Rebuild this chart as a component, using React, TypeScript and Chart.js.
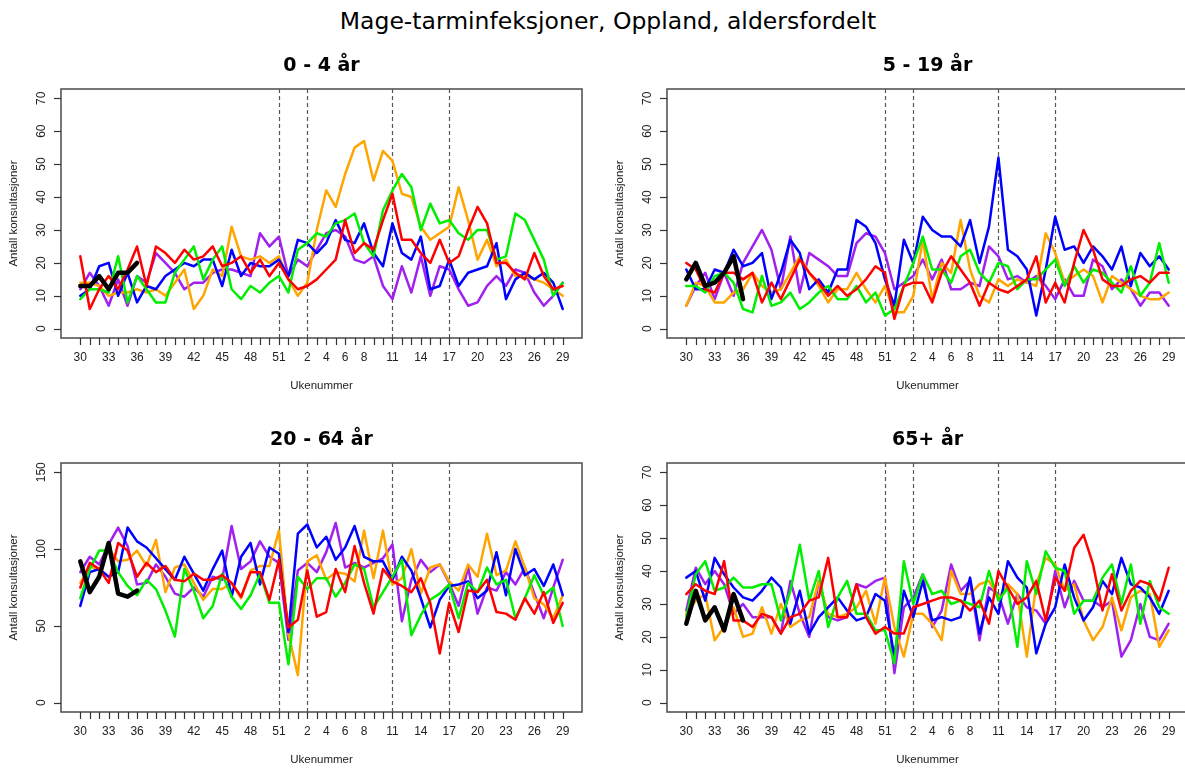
import React, { useEffect, useRef } from "react";
import { Chart, registerables } from "chart.js";

Chart.register(...registerables);

// ---------- data ----------
const WEEKS = [30, 31, 32, 33, 34, 35, 36, 37, 38, 39, 40, 41, 42, 43, 44, 45, 46, 47, 48, 49, 50, 51, 52,
  1, 2, 3, 4, 5, 6, 7, 8, 9, 10, 11, 12, 13, 14, 15, 16, 17, 18, 19, 20, 21, 22, 23, 24, 25, 26, 27, 28, 29];
const LABELED_WEEKS = [30, 33, 36, 39, 42, 45, 48, 51, 2, 4, 6, 8, 11, 14, 17, 20, 23, 26, 29];
const DASHED_WEEKS = [51, 2, 11, 17];

const MAIN_TITLE = "Mage-tarminfeksjoner, Oppland, aldersfordelt";
const X_TITLE = "Ukenummer";
const Y_TITLE = "Antall konsultasjoner";
const PANEL_TITLES = ["0 - 4 år", "5 - 19 år", "20 - 64 år", "65+ år"];
const Y_TICKS_SMALL = [0, 10, 20, 30, 40, 50, 60, 70];
const Y_TICKS_LARGE = [0, 50, 100, 150];

const SERIES_COLORS = ["#FF0000", "#00EE00", "#0000FF", "#FFA500", "#A020F0"];

// 0 - 4 år
const p1Red = [22, 6, 12, 16, 12, 18, 25, 13, 25, 23, 20, 24, 21, 22, 25, 19, 20, 22, 17, 21, 16, 20, 15, 12, 13, 15, 18, 21, 33, 23, 26, 24, 33, 41, 27, 27, 23, 20, 27, 20, 22, 30, 37, 32, 20, 20, 17, 15, 23, 16, 12, 13];
const p1Green = [9, 12, 12, 11, 22, 8, 16, 12, 8, 8, 17, 21, 25, 15, 21, 25, 12, 9, 13, 11, 14, 16, 11, 24, 26, 29, 28, 32, 33, 35, 26, 22, 36, 42, 47, 43, 30, 38, 32, 33, 29, 27, 30, 30, 21, 22, 35, 33, 27, 21, 10, 14];
const p1Blue = [10, 12, 19, 20, 10, 17, 8, 13, 12, 16, 18, 20, 19, 21, 21, 13, 24, 16, 20, 19, 19, 21, 16, 27, 26, 23, 26, 33, 27, 26, 32, 23, 19, 32, 23, 21, 28, 12, 13, 21, 13, 17, 18, 19, 26, 9, 15, 17, 15, 17, 14, 6];
const p1Orange = [14, 14, 13, 10, 11, 11, 12, 11, 12, 10, 14, 18, 6, 10, 18, 16, 31, 22, 21, 22, 20, 22, 15, 10, 14, 30, 42, 37, 47, 55, 57, 45, 54, 51, 41, 40, 31, 27, 29, 31, 43, 33, 21, 27, 19, 21, 16, 16, 15, 14, 12, 10];
const p1Purple = [12, 17, 13, 7, 15, 7, 16, 14, 23, 20, 17, 12, 14, 14, 17, 18, 18, 17, 16, 29, 25, 28, 16, 21, 19, 24, 29, 30, 28, 21, 20, 22, 13, 9, 19, 11, 22, 10, 19, 18, 12, 7, 8, 13, 16, 13, 18, 17, 11, 7, 10, 14];
const p1Current = [13, 13, 16, 12, 17, 17, 20];

// 5 - 19 år
const p2Red = [20, 18, 12, 11, 17, 17, 15, 17, 8, 14, 9, 15, 21, 17, 14, 10, 13, 10, 12, 15, 19, 17, 3, 13, 14, 14, 8, 17, 22, 18, 14, 7, 14, 12, 11, 13, 15, 22, 8, 14, 8, 20, 30, 24, 15, 13, 13, 15, 16, 14, 17, 17];
const p2Green = [13, 13, 11, 16, 17, 14, 6, 5, 16, 7, 8, 11, 6, 8, 11, 13, 9, 9, 13, 8, 11, 4, 6, 13, 20, 28, 18, 18, 14, 22, 24, 17, 14, 20, 19, 12, 15, 15, 18, 21, 13, 19, 14, 18, 17, 14, 11, 19, 10, 14, 26, 14];
const p2Blue = [18, 12, 12, 18, 17, 24, 19, 20, 23, 9, 17, 27, 23, 12, 15, 11, 18, 18, 33, 31, 26, 15, 7, 27, 20, 34, 30, 28, 28, 25, 33, 20, 31, 52, 24, 22, 18, 4, 18, 34, 24, 25, 20, 25, 22, 18, 25, 13, 23, 19, 22, 18];
const p2Orange = [7, 14, 13, 8, 8, 11, 12, 17, 13, 11, 12, 17, 22, 17, 13, 8, 12, 12, 17, 12, 8, 13, 5, 5, 10, 27, 9, 20, 17, 33, 18, 10, 8, 15, 13, 15, 14, 13, 29, 23, 14, 16, 18, 16, 8, 16, 14, 12, 10, 9, 9, 11];
const p2Purple = [7, 13, 17, 9, 17, 10, 20, 25, 30, 24, 12, 28, 11, 23, 21, 19, 16, 16, 26, 29, 28, 23, 12, 14, 16, 21, 15, 21, 12, 12, 14, 13, 25, 22, 15, 16, 14, 16, 13, 9, 15, 10, 10, 21, 19, 12, 15, 12, 7, 11, 11, 7];
const p2Current = [15, 20, 13, 14, 17, 22, 9];

// 20 - 64 år
const p3Red = [75, 91, 87, 78, 104, 99, 82, 91, 85, 89, 80, 79, 84, 80, 80, 83, 78, 69, 85, 85, 67, 93, 49, 54, 86, 56, 59, 87, 72, 102, 78, 58, 87, 79, 76, 72, 81, 65, 32, 65, 46, 73, 72, 80, 59, 58, 54, 68, 58, 72, 52, 65];
const p3Green = [68, 87, 99, 99, 85, 76, 70, 80, 74, 60, 43, 87, 73, 55, 63, 84, 69, 61, 70, 84, 65, 65, 25, 82, 74, 81, 81, 69, 78, 90, 87, 62, 72, 82, 93, 44, 57, 67, 71, 77, 55, 78, 72, 88, 77, 80, 55, 68, 83, 70, 75, 50];
const p3Blue = [63, 85, 87, 82, 85, 114, 105, 101, 94, 87, 80, 95, 84, 73, 87, 99, 69, 95, 104, 77, 101, 97, 46, 110, 116, 101, 108, 93, 101, 115, 95, 92, 92, 80, 95, 86, 68, 49, 67, 76, 77, 79, 68, 73, 98, 70, 100, 83, 87, 76, 90, 70];
const p3Orange = [78, 89, 86, 100, 92, 93, 99, 89, 106, 72, 88, 90, 78, 67, 74, 74, 78, 68, 86, 89, 89, 112, 45, 18, 92, 96, 80, 85, 84, 79, 112, 81, 112, 77, 81, 100, 71, 88, 90, 79, 73, 90, 82, 110, 83, 86, 105, 88, 68, 64, 55, 70];
const p3Purple = [85, 95, 90, 103, 114, 102, 77, 78, 90, 82, 71, 69, 75, 69, 82, 80, 115, 87, 92, 105, 95, 91, 41, 86, 91, 85, 98, 117, 88, 91, 88, 91, 94, 103, 53, 80, 93, 85, 90, 78, 63, 88, 58, 75, 73, 85, 77, 88, 71, 55, 75, 93];
const p3Current = [92, 72, 82, 104, 71, 69, 73];

// 65+ år
const p4Red = [33, 36, 34, 33, 43, 25, 25, 23, 27, 26, 21, 26, 27, 31, 32, 44, 26, 26, 36, 26, 21, 23, 21, 21, 29, 30, 31, 32, 32, 31, 28, 31, 24, 40, 35, 30, 32, 37, 25, 38, 34, 47, 51, 42, 28, 39, 28, 34, 37, 36, 31, 41];
const p4Green = [26, 39, 43, 34, 35, 38, 35, 35, 36, 36, 25, 34, 48, 31, 40, 23, 32, 37, 27, 27, 22, 22, 12, 43, 30, 39, 33, 34, 30, 31, 30, 29, 40, 31, 35, 17, 43, 33, 46, 41, 40, 27, 31, 31, 38, 42, 30, 42, 24, 37, 29, 27];
const p4Blue = [38, 40, 31, 44, 39, 35, 32, 31, 34, 38, 35, 24, 34, 21, 26, 29, 32, 28, 25, 26, 33, 31, 14, 34, 26, 37, 25, 26, 25, 26, 38, 21, 32, 27, 43, 38, 35, 15, 24, 29, 42, 32, 25, 29, 37, 33, 44, 36, 35, 32, 27, 34];
const p4Orange = [27, 31, 33, 19, 23, 29, 20, 21, 29, 21, 30, 23, 25, 26, 37, 27, 26, 27, 29, 34, 24, 38, 23, 14, 27, 27, 24, 19, 40, 33, 33, 36, 37, 32, 36, 33, 14, 36, 44, 42, 34, 36, 25, 19, 23, 32, 22, 32, 34, 33, 17, 22];
const p4Purple = [28, 41, 36, 40, 36, 27, 30, 26, 26, 26, 21, 37, 27, 20, 37, 26, 25, 26, 36, 35, 37, 38, 9, 29, 32, 39, 23, 28, 42, 34, 37, 19, 35, 33, 24, 33, 29, 28, 24, 40, 29, 37, 31, 31, 29, 31, 14, 19, 30, 20, 19, 24];
const p4Current = [24, 34, 25, 29, 22, 33, 25];

// ---------- layout ----------
type Panel = {
  title: string;
  yTicks: number[];
  series: number[][];
  current: number[];
  left: number;
  top: number;
  width: number;
  height: number;
  pad: { left: number; right: number; top: number; bottom: number };
};

const PANELS: Panel[] = [
  { title: PANEL_TITLES[0], yTicks: Y_TICKS_SMALL, series: [p1Red, p1Green, p1Blue, p1Orange, p1Purple], current: p1Current,
    left: 0, top: 40, width: 600, height: 370, pad: { left: 61, right: 18, top: 49, bottom: 72 } },
  { title: PANEL_TITLES[1], yTicks: Y_TICKS_SMALL, series: [p2Red, p2Green, p2Blue, p2Orange, p2Purple], current: p2Current,
    left: 600, top: 40, width: 588, height: 370, pad: { left: 67, right: 0, top: 49, bottom: 72 } },
  { title: PANEL_TITLES[2], yTicks: Y_TICKS_LARGE, series: [p3Red, p3Green, p3Blue, p3Orange, p3Purple], current: p3Current,
    left: 0, top: 410, width: 600, height: 359, pad: { left: 61, right: 18, top: 53, bottom: 57 } },
  { title: PANEL_TITLES[3], yTicks: Y_TICKS_SMALL, series: [p4Red, p4Green, p4Blue, p4Orange, p4Purple], current: p4Current,
    left: 600, top: 410, width: 588, height: 359, pad: { left: 67, right: 0, top: 53, bottom: 57 } },
];

const FONT = '"Liberation Sans", Arial, Helvetica, sans-serif';
const TITLE_FONT = '"DejaVu Sans", "Liberation Sans", sans-serif';

function makeDecor(panel: Panel) {
  return {
    id: "decor",
    beforeDatasetsDraw(chart: any) {
      const { ctx, chartArea } = chart;
      const xs = chart.scales.x;
      ctx.save();
      ctx.strokeStyle = "#555";
      ctx.lineWidth = 1.2;
      ctx.setLineDash([4, 3]);
      DASHED_WEEKS.forEach((w) => {
        const idx = WEEKS.indexOf(w);
        const px = Math.round(xs.getPixelForValue(idx)) + 0.5;
        ctx.beginPath();
        ctx.moveTo(px, chartArea.top);
        ctx.lineTo(px, chartArea.bottom);
        ctx.stroke();
      });
      ctx.restore();
    },
    afterDraw(chart: any) {
      const { ctx, chartArea } = chart;
      const xs = chart.scales.x;
      const ys = chart.scales.y;
      const { left, right, top, bottom } = chartArea;
      ctx.save();
      ctx.strokeStyle = "#555";
      ctx.lineWidth = 1.6;
      ctx.setLineDash([]);
      ctx.strokeRect(left, top, right - left, bottom - top);

      // x ticks
      ctx.strokeStyle = "#333";
      ctx.lineWidth = 1.2;
      ctx.fillStyle = "#222";
      ctx.font = `12px ${FONT}`;
      ctx.textAlign = "center";
      ctx.textBaseline = "middle";
      WEEKS.forEach((w, i) => {
        const px = Math.round(xs.getPixelForValue(i)) + 0.5;
        ctx.beginPath();
        ctx.moveTo(px, bottom);
        ctx.lineTo(px, bottom + 7);
        ctx.stroke();
      });
      LABELED_WEEKS.forEach((w) => {
        const i = WEEKS.indexOf(w);
        ctx.fillText(String(w), xs.getPixelForValue(i), bottom + 20);
      });

      // y ticks
      panel.yTicks.forEach((v) => {
        const py = Math.round(ys.getPixelForValue(v)) + 0.5;
        ctx.beginPath();
        ctx.moveTo(left, py);
        ctx.lineTo(left - 7, py);
        ctx.stroke();
        ctx.save();
        ctx.translate(left - 19, ys.getPixelForValue(v));
        ctx.rotate(-Math.PI / 2);
        ctx.fillText(String(v), 0, 0);
        ctx.restore();
      });

      // axis titles
      ctx.font = `11.5px ${FONT}`;
      ctx.fillText(X_TITLE, (left + right) / 2, bottom + 48);
      ctx.save();
      ctx.translate(left - 47, (top + bottom) / 2);
      ctx.rotate(-Math.PI / 2);
      ctx.fillText(Y_TITLE, 0, 0);
      ctx.restore();

      // panel title
      ctx.fillStyle = "#000";
      ctx.font = `bold 19px ${TITLE_FONT}`;
      ctx.textBaseline = "alphabetic";
      ctx.fillText(panel.title, (left + right) / 2, top - 18);
      ctx.restore();
    },
  };
}

function PanelChart({ panel }: { panel: Panel }) {
  const ref = useRef<HTMLCanvasElement | null>(null);
  useEffect(() => {
    if (!ref.current) return;
    const yMax = panel.yTicks[panel.yTicks.length - 1];
    const nx = WEEKS.length - 1;
    const toPts = (arr: number[]) => arr.map((v, i) => ({ x: i, y: v }));
    const datasets: any[] = [
      { data: toPts(panel.current), borderColor: "#000", borderWidth: 4.5 },
      ...panel.series.map((s, k) => ({ data: toPts(s), borderColor: SERIES_COLORS[k], borderWidth: 2.5 })),
    ].map((d) => ({ ...d, pointRadius: 0, tension: 0, fill: false, borderJoinStyle: "round", borderCapStyle: "round" }));
    const chart = new Chart(ref.current, {
      type: "line",
      data: { datasets },
      options: {
        animation: false,
        responsive: false,
        maintainAspectRatio: false,
        events: [],
        layout: { padding: panel.pad },
        plugins: { legend: { display: false }, tooltip: { enabled: false }, title: { display: false } },
        scales: {
          x: { type: "linear", display: false, min: -0.04 * nx, max: nx * 1.04 },
          y: { type: "linear", display: false, min: -0.04 * yMax, max: yMax * 1.04 },
        },
      },
      plugins: [makeDecor(panel)],
    } as any);
    return () => chart.destroy();
  }, [panel]);
  return (
    <canvas
      ref={ref}
      width={panel.width}
      height={panel.height}
      style={{ position: "absolute", left: panel.left, top: panel.top, width: panel.width, height: panel.height }}
    />
  );
}

export default function App() {
  return (
    <div style={{ position: "absolute", left: 0, top: 0, width: 1185, height: 769, overflow: "hidden", background: "#fff" }}>
      <div
        style={{
          position: "absolute", left: 0, top: 10, width: 1216, textAlign: "center", whiteSpace: "nowrap",
          fontFamily: TITLE_FONT, fontSize: 23.5, lineHeight: "23.5px", color: "#000",
        }}
      >
        {MAIN_TITLE}
      </div>
      {PANELS.map((p, i) => (
        <PanelChart key={i} panel={p} />
      ))}
    </div>
  );
}
